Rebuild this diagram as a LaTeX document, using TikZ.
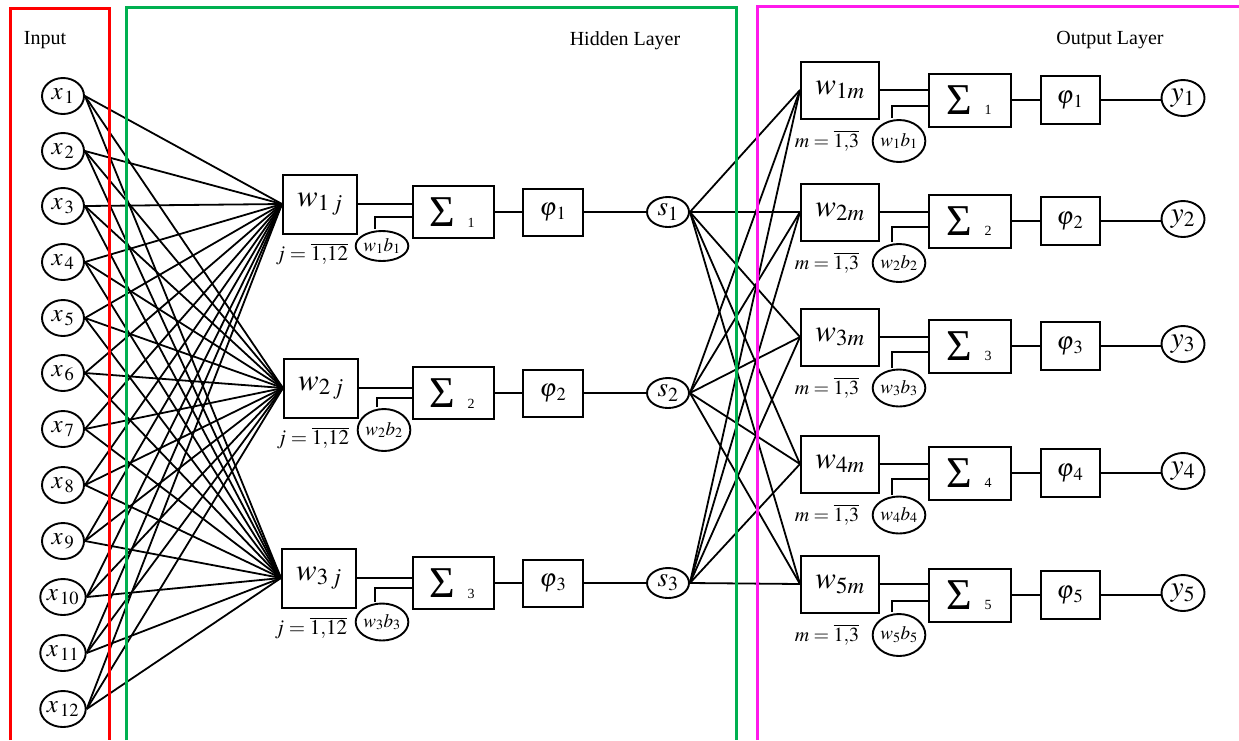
\documentclass[tikz,border=0pt]{standalone}
\usepackage{mathptmx}
\usepackage[no-math]{fontspec}
\setmainfont{Liberation Serif}
\usetikzlibrary{shapes.geometric}
\newcommand{\fsz}[1]{\fontsize{#1}{#1}\selectfont}
\definecolor{frmred}{RGB}{255,0,0}
\definecolor{frmgreen}{RGB}{0,176,80}
\definecolor{frmmag}{RGB}{255,25,235}
\tikzset{
  blk/.style={draw, rectangle, line width=2pt, inner sep=0pt},
  ell/.style={draw, ellipse, line width=1.9pt, inner sep=0pt},
  wire/.style={line width=1.8pt},
  frm/.style={line width=3pt},
  ttl/.style={font=\fsz{20}, inner sep=0pt},
}
\begin{document}
\begin{tikzpicture}[x=1pt,y=-1pt]
\useasboundingbox (0,0) rectangle (1239,740);

% ---------- input neurons ----------
\foreach \i/\yy in {1/96,2/151,3/206,4/262,5/318,6/373,7/429,8/485,9/541,10/597,11/653,12/709}
  \node[ell, minimum width=42pt, minimum height=36pt, font=\fsz{25}] (x\i) at (63,\yy) {$x_{\,\i}$};

% ---------- hidden layer ----------
\foreach \j/\wx/\wy/\sy/\bx/\by/\bw/\bh in {1/320/204/212/382/246/43/30, 2/321/388/393/384/430/45/42, 3/319/578/583/382/622/44/37}{
  \node[blk, minimum width=74pt, minimum height=59pt, font=\fsz{31}] (wh\j) at (\wx,\wy) {$w_{\j\,j}$};
  \node[font=\fsz{21}, inner sep=0pt] (jl\j) at (\wx-8,\wy+50) {$j=\overline{1{,}12}$};
  \node[blk, minimum width=81pt, minimum height=52pt] (sh\j) at (453,\sy) {};
  \node[font=\fsz{44}, inner sep=0pt] (sg\j) at ([xshift=-11pt]sh\j.center) {Σ};
  \node[font=\fsz{14}, inner sep=0pt] (sd\j) at ([xshift=18pt,yshift=-11pt]sh\j.center) {\j};
  \node[ell, minimum width=\bw pt, minimum height=\bh pt, font=\fsz{19}] (bh\j) at (\bx,\by) {$w_{\j}b_{\j}$};
  \node[blk, minimum width=60pt, minimum height=47pt, font=\fsz{25}] (ph\j) at (553,\sy) {$\varphi_{\,\j}$};
  \node[ell, minimum width=42pt, minimum height=30pt, font=\fsz{27}] (s\j) at (668,\sy) {$s_{\j}$};
}

% ---------- output layer ----------
\foreach \m/\wy/\sy/\bw/\bh in {1/90/100/45/42, 2/212/221/42/38, 3/337/346/43/37, 4/464/473/42/37, 5/584/595/45/42}{
  \node[blk, minimum width=78pt, minimum height=57pt, font=\fsz{31}] (wo\m) at (840,\wy) {$w_{\m m}$};
  \node[font=\fsz{20}, inner sep=0pt] (ml\m) at (827,\wy+51) {$m=\overline{1{,}3}$};
  \node[blk, minimum width=82pt, minimum height=53pt] (so\m) at (970,\sy) {};
  \node[font=\fsz{44}, inner sep=0pt] (tg\m) at ([xshift=-11pt]so\m.center) {Σ};
  \node[font=\fsz{14}, inner sep=0pt] (td\m) at ([xshift=18pt,yshift=-10pt]so\m.center) {\m};
  \node[ell, minimum width=\bw pt, minimum height=\bh pt, font=\fsz{19}] (bo\m) at (899,\wy+51) {$w_{\m}b_{\m}$};
  \node[blk, minimum width=59pt, minimum height=48pt, font=\fsz{25}] (po\m) at (1070,\sy) {$\varphi_{\,\m}$};
  \node[ell, minimum width=43pt, minimum height=36pt, font=\fsz{29}] (y\m) at (1183,\sy-2) {$y_{\m}$};
}

% ---------- connectors: inputs to hidden weights ----------
\foreach \i in {1,...,12}
  \foreach \j in {1,2,3}
    \draw[wire] (x\i.east) -- (wh\j.west);

% ---------- hidden chains ----------
\foreach \j in {1,2,3}{
  \draw[wire] (wh\j.east) -- (wh\j.east -| sh\j.west);
  \draw[wire] ([xshift=-7pt,yshift=1pt]bh\j.north) |- ([yshift=-5pt]sh\j.west);
  \draw[wire] (sh\j.east) -- (ph\j.west);
  \draw[wire] (ph\j.east) -- (s\j.west);
}

% ---------- connectors: hidden outputs to output weights ----------
\foreach \k in {1,2,3}
  \foreach \m in {1,...,5}
    \draw[wire] (s\k.east) -- (wo\m.west);

% ---------- output chains ----------
\foreach \m in {1,...,5}{
  \draw[wire] (wo\m.east) -- (wo\m.east -| so\m.west);
  \draw[wire] ([xshift=-7pt,yshift=1pt]bo\m.north) |- ([yshift=-6pt]so\m.west);
  \draw[wire] (so\m.east) -- (po\m.west);
  \draw[wire] (po\m.east) -- (po\m.east -| y\m.west);
}

% ---------- layer frames and titles ----------
\draw[frm, frmred] (10,740) -- (10,8) -- (109,8) -- (109,740);
\draw[frm, frmgreen] (126,740) -- (126,7) -- (736,7) -- (736,740);
\draw[frm, frmmag] (757,740) -- (757,6) -- (1245,6);
\node[ttl] (tin) at (45,40) {Input};
\node[ttl] (thid) at (625,41) {Hidden Layer};
\node[ttl] (tout) at (1110,40) {Output Layer};
\end{tikzpicture}
\end{document}
